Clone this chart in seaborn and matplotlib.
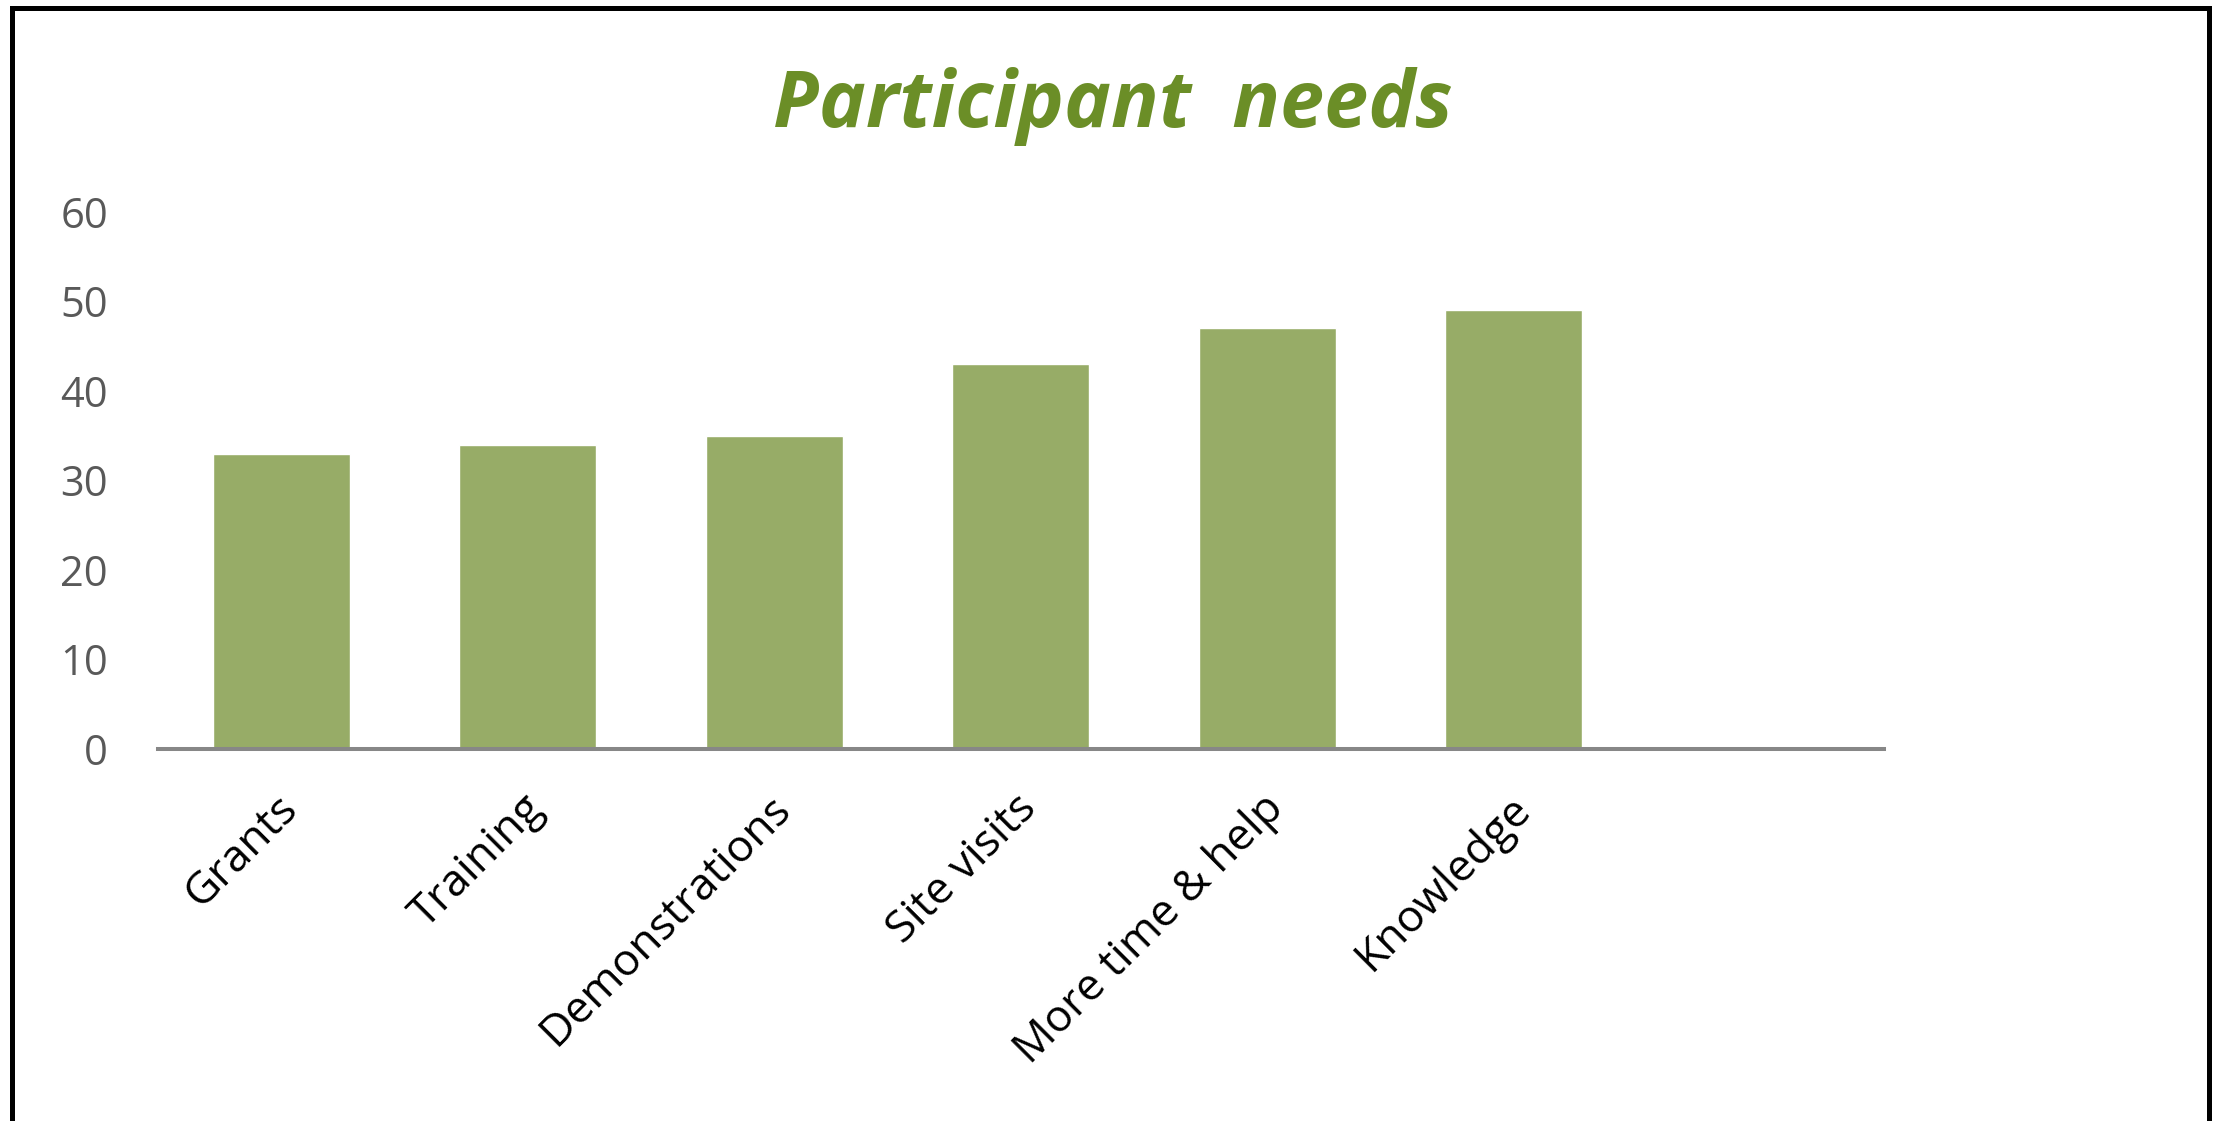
import matplotlib
matplotlib.use("Agg")
import matplotlib.pyplot as plt
import matplotlib.patches as mpatches
import matplotlib.transforms as mtransforms
import seaborn as sns
import pandas as pd

# participant needs survey counts
needs = ["Grants", "Training", "Demonstrations", "Site visits", "More time & help", "Knowledge"]
counts = [33, 34, 35, 43, 47, 49]
y_ticks = [0, 10, 20, 30, 40, 50, 60]

bar_color = "#97AC67"
title_color = "#6B8E27"

sns.set_style("white")
plt.rcParams["font.family"] = ["Open Sans", "DejaVu Sans"]

df = pd.DataFrame({"need": needs, "count": counts})

fig = plt.figure(figsize=(22.16, 11.21), dpi=100)
ax = fig.add_axes([0.0713, 0.332, 0.7787, 0.479])

sns.barplot(data=df, x="need", y="count", color=bar_color, saturation=1,
            width=0.555, ax=ax)

# one empty slot on the right, like the original chart area
ax.set_xlim(-0.5, len(needs) + 0.5)
ax.set_ylim(0, 60)
ax.set_yticks(y_ticks)
ax.set_yticklabels([str(t) for t in y_ticks], fontsize=30, color="#595959")
ax.tick_params(axis="y", length=0, pad=36)
ax.tick_params(axis="x", length=0, pad=27)
ax.set_xticks(range(len(needs)))
ax.set_xticklabels(needs, rotation=45, ha="right", rotation_mode="anchor",
                   fontsize=32, color="black")
shift = mtransforms.ScaledTranslation(-6 / 100, 0, fig.dpi_scale_trans)
for lbl in ax.get_xticklabels():
    lbl.set_transform(lbl.get_transform() + shift)

ax.set_xlabel("")
ax.set_ylabel("")
for s in ["top", "right", "left"]:
    ax.spines[s].set_visible(False)
ax.spines["bottom"].set_color("#878787")
ax.spines["bottom"].set_linewidth(2.9)

fig.text(0.502, 0.905, "Participant  needs", ha="center", va="center",
         fontsize=57, fontweight="bold", fontstyle="italic", color=title_color)

# black frame round the chart (bottom edge cut off in the original)
frame = mpatches.Rectangle((0.0054, -0.05), 0.9915, 1.043, transform=fig.transFigure,
                           fill=False, edgecolor="black", linewidth=3.6)
fig.patches.append(frame)

fig.savefig("out.png", dpi=100, facecolor="white")
